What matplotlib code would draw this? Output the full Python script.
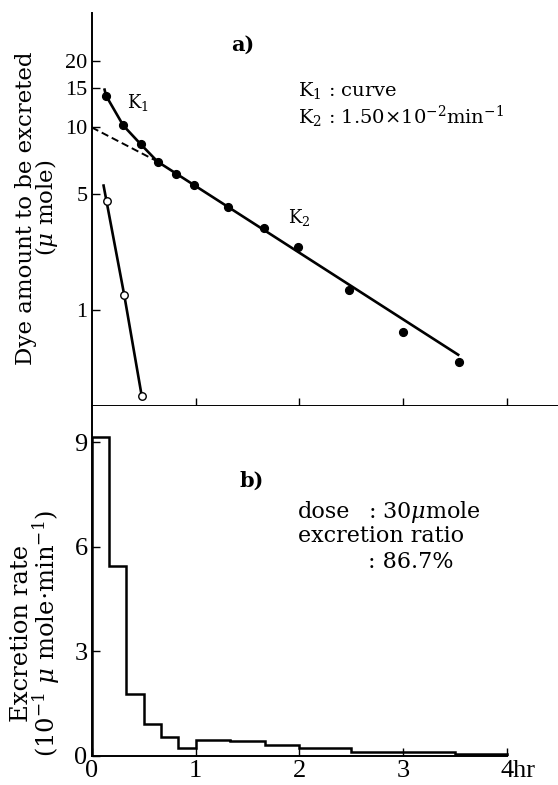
import numpy as np
import matplotlib
matplotlib.use("Agg")
import matplotlib.pyplot as plt
from matplotlib.ticker import NullLocator, FixedLocator, FixedFormatter

# ---------------- data ----------------
k_time = [0.138, 0.304, 0.472, 0.642, 0.812, 0.983, 1.310, 1.663, 1.985, 2.476, 2.996, 3.541]
k_amount = [13.9, 10.2, 8.4, 6.95, 6.15, 5.5, 4.19, 3.1, 2.38, 1.32, 0.73, 0.48]
fast_time = [0.145, 0.314, 0.482]
fast_amount = [4.55, 1.22, 0.30]
k1_curve_t = [0.121, 0.138, 0.304, 0.472, 0.642]
k1_curve_v = [15.0, 13.9, 10.2, 8.4, 6.95]
k2_extrap_t = [0.0, 0.626]
k2_extrap_v = [10.0, 7.05]
k2_line_t = [0.626, 3.541]
k2_line_v = [7.05, 0.528]
fast_line_t = [0.112, 0.314, 0.482]
fast_line_v = [5.54, 1.22, 0.30]
rate_edges = [0, 0.17, 0.33, 0.5, 0.67, 0.83, 1.0, 1.33, 1.67, 2.0, 2.5, 3.5, 4.0]
rates = [9.16, 5.45, 1.77, 0.91, 0.55, 0.22, 0.46, 0.43, 0.32, 0.24, 0.12, 0.06]
amount_ticks = [20, 15, 10, 5, 1]
amount_labels = ["20", "15", "10", "5", "1"]
rate_ticks = [0, 3, 6, 9]
rate_labels = ["0", "3", "6", "9"]
time_ticks = [0, 1, 2, 3, 4]
time_labels = ["0", "1", "2", "3", ""]
last_time_label = "4hr"

# ---------------- style ----------------
plt.rcParams["font.family"] = ["DejaVu Serif"]
plt.rcParams["mathtext.fontset"] = "dejavuserif"
TICKFONT = "Liberation Serif"

# y scale of panel a) as drawn: logarithmic, compressed below 5
LOG5 = np.log10(5.0)
RATIO = 0.745


def fwd(v):
    L = np.log10(np.clip(np.asarray(v, dtype=float), 1e-9, None))
    return np.where(L >= LOG5, L, LOG5 + (L - LOG5) * RATIO)


def inv(u):
    u = np.asarray(u, dtype=float)
    return np.where(u >= LOG5, 10.0 ** u, 10.0 ** (LOG5 + (u - LOG5) / RATIO))


W, H = 558, 785
fig = plt.figure(figsize=(W / 100, H / 100), dpi=100)

x0 = 91.7 / W
ax1 = fig.add_axes([x0, 1 - 406 / H, 1 - x0, (406 - 13) / H])
ax2 = fig.add_axes([x0, 1 - 756 / H, 1 - x0, (756 - 406) / H])

XMAX = (558 - 91.7) / 103.8

# ---------- panel a ----------
ax1.set_yscale("function", functions=(fwd, inv))
ax1.set_xlim(0, XMAX)
ax1.set_ylim(0.261, 32.8)
ax1.plot(k1_curve_t, k1_curve_v, color="k", lw=1.9, solid_capstyle="butt")
ax1.plot(k2_line_t, k2_line_v, color="k", lw=1.9, solid_capstyle="butt")
ax1.plot(k2_extrap_t, k2_extrap_v, color="k", lw=1.4, dashes=(3.8, 2.0))
ax1.plot(fast_line_t, fast_line_v, color="k", lw=1.9, solid_capstyle="butt")
ax1.plot(k_time, k_amount, "o", color="k", ms=5.6, zorder=5)
ax1.plot(fast_time, fast_amount, "o", mfc="white", mec="k", mew=1.0, ms=5.4, zorder=5)

ax1.yaxis.set_major_locator(FixedLocator(amount_ticks))
ax1.yaxis.set_major_formatter(FixedFormatter(amount_labels))
ax1.yaxis.set_minor_locator(NullLocator())
ax1.xaxis.set_major_locator(FixedLocator([1, 2, 3, 4]))
ax1.xaxis.set_minor_locator(NullLocator())
ax1.tick_params(axis="x", direction="in", length=6, width=1.0, labelbottom=False)
ax1.tick_params(axis="y", direction="in", length=5.5, width=1.0, pad=3, labelsize=16)
for lab in ax1.get_yticklabels():
    lab.set_family(TICKFONT)
for s in ("top", "right"):
    ax1.spines[s].set_visible(False)
for s in ("left", "bottom"):
    ax1.spines[s].set_linewidth(1.4)

ax1.text(0.3245, 0.919, "a)", transform=ax1.transAxes, ha="center", va="center",
         fontsize=15, fontweight="bold")
ax1.text(0.0993, 0.7735, r"K$_1$", transform=ax1.transAxes, ha="center", va="center",
         fontsize=13)
ax1.text(0.4446, 0.4784, r"K$_2$", transform=ax1.transAxes, ha="center", va="center",
         fontsize=13)
ax1.text(0.4425, 0.804, r"K$_1$ : curve", transform=ax1.transAxes, ha="left", va="center",
         fontsize=14)
ax1.text(0.4425, 0.7354, r"K$_2$ : 1.50$\times$10$^{-2}$min$^{-1}$", transform=ax1.transAxes,
         ha="left", va="center", fontsize=14)

# ---------- panel b ----------
ax2.set_xlim(0, XMAX)
ax2.set_ylim(0, (756 - 406) / 34.86)
ax2.stairs(rates, rate_edges, color="k", lw=1.8, baseline=0)
ax2.xaxis.set_major_locator(FixedLocator(time_ticks))
ax2.xaxis.set_major_formatter(FixedFormatter(time_labels))
ax2.xaxis.set_minor_locator(NullLocator())
ax2.yaxis.set_major_locator(FixedLocator(rate_ticks))
ax2.yaxis.set_major_formatter(FixedFormatter(rate_labels))
ax2.yaxis.set_minor_locator(NullLocator())
ax2.tick_params(axis="both", direction="in", length=5.5, width=1.0, labelsize=19)
ax2.tick_params(axis="x", pad=3)
ax2.tick_params(axis="y", pad=3)
for lab in ax2.get_xticklabels() + ax2.get_yticklabels():
    lab.set_family(TICKFONT)
for s in ("top", "right"):
    ax2.spines[s].set_visible(False)
for s in ("left", "bottom"):
    ax2.spines[s].set_linewidth(1.4)
ax2.spines["bottom"].set_bounds(0, 4)
# last x label "4hr": the "4" sits on the tick, "hr" runs to the right
ax2.annotate(last_time_label, xy=(time_ticks[-1], 0), xycoords=("data", "axes fraction"),
             xytext=(-4.6, -2.9), textcoords="offset points", ha="left", va="top",
             fontsize=19, family=TICKFONT)

ax2.text(0.343, 0.786, "b)", transform=ax2.transAxes, ha="center", va="center",
         fontsize=15, fontweight="bold")
ax2.text(0.4424, 0.68, "dose", transform=ax2.transAxes, ha="left", va="baseline",
         fontsize=16)
ax2.text(0.5925, 0.68, r": 30$\mu$mole", transform=ax2.transAxes, ha="left", va="baseline",
         fontsize=16)
ax2.text(0.4424, 0.6123, "excretion ratio", transform=ax2.transAxes, ha="left",
         va="baseline", fontsize=16)
ax2.text(0.5925, 0.536, ": 86.7%", transform=ax2.transAxes, ha="left", va="baseline",
         fontsize=16)

# ---------- axis titles (two-line, one text each) ----------
fig.text(37.5 / W, 1 - 208 / H, "Dye amount to be excreted\n($\\mu$ mole)", rotation=90,
         ha="center", va="center", multialignment="center", fontsize=16.5,
         linespacing=0.8)
fig.text(36 / W, 1 - 633 / H,
         "Excretion rate\n(10$^{-1}$ $\\mu$ mole$\\cdot$min$^{-1}$)", rotation=90,
         ha="center", va="center", multialignment="center", fontsize=17.5,
         linespacing=0.92)

fig.savefig("out.png", dpi=100)
